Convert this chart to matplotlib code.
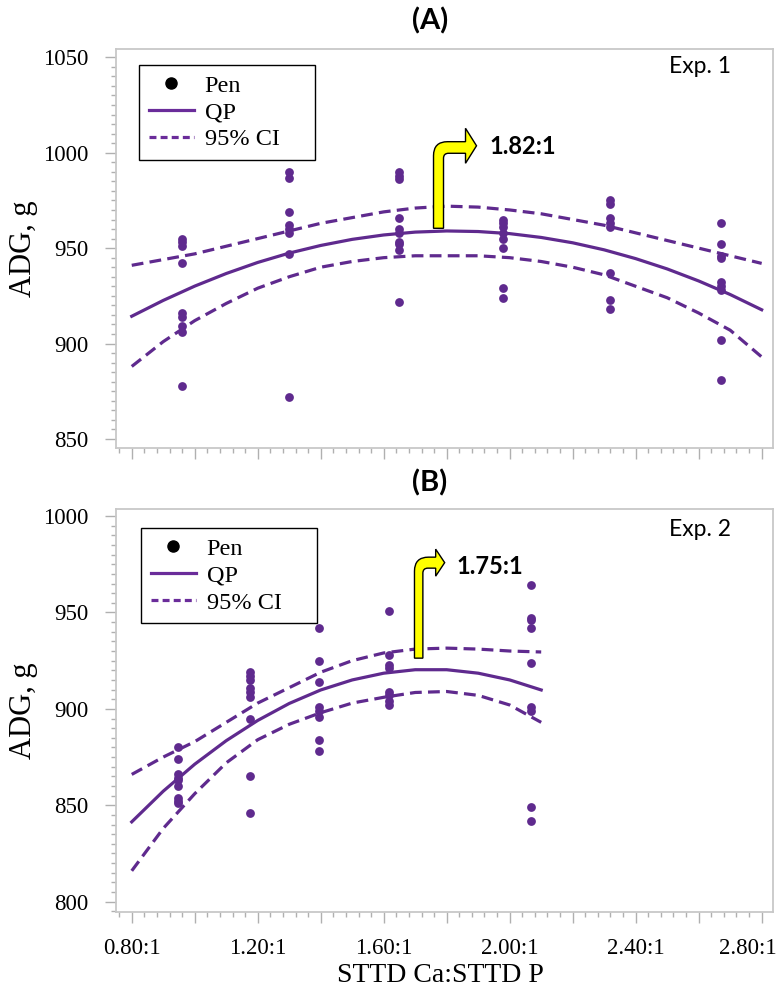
import numpy as np
import matplotlib
matplotlib.use("Agg")
from matplotlib import pyplot as plt
from matplotlib.path import Path
from matplotlib.patches import PathPatch
from matplotlib.lines import Line2D
import matplotlib.transforms as mtransforms
from matplotlib.ticker import MultipleLocator, FixedLocator

plt.rcParams['font.family'] = ['Liberation Serif', 'DejaVu Serif']
plt.rcParams['lines.scale_dashes'] = False

PURPLE = '#5f2a8e'

# ---- Exp. 1 data (panel A) ----
x1 = [0.96, 1.30, 1.65, 1.98, 2.32, 2.67]
pen1 = [
    [955, 953, 951, 942, 916, 914, 909, 906, 878],
    [990, 987, 969, 962, 960, 958, 947, 872],
    [990, 988, 986, 966, 960, 958, 953, 952, 949, 922],
    [965, 963, 961, 958, 955, 950, 929, 924],
    [975, 973, 966, 963, 961, 937, 923, 918],
    [963, 952, 946, 945, 932, 930, 928, 902, 881],
]
curve_x1 = [0.8, 0.9, 1.0, 1.1, 1.2, 1.3, 1.4, 1.5, 1.6, 1.7, 1.8,
            1.9, 2.0, 2.1, 2.2, 2.3, 2.4, 2.5, 2.6, 2.7, 2.8]
qp1 = [914.3, 922.6, 930.1, 936.7, 942.5, 947.4, 951.4, 954.6, 956.9, 958.4, 959.0,
       958.7, 957.6, 955.6, 952.8, 949.1, 944.5, 939.1, 932.8, 925.7, 917.7]
ci_hi1 = [941, 944, 947, 951, 955, 959, 963, 966, 969, 971, 972,
          971.5, 970, 968, 965, 962, 958, 954, 950, 946, 942]
ci_lo1 = [888, 901, 912, 921, 929, 935, 940, 943, 945, 946, 946,
          946, 945, 943, 940, 936, 930, 924, 916, 907, 893]

# ---- Exp. 2 data (panel B) ----
x2 = [0.947, 1.174, 1.395, 1.617, 2.067]
pen2 = [
    [880, 874, 866, 864, 863, 860, 854, 852, 851],
    [919, 917, 915, 911, 909, 906, 895, 865, 846],
    [942, 925, 914, 901, 899, 896, 884, 878],
    [951, 928, 923, 921, 909, 907, 904, 902],
    [964, 947, 946, 942, 924, 901, 899, 849, 842],
]
curve_x2 = [0.8, 0.9, 1.0, 1.1, 1.2, 1.3, 1.4, 1.5, 1.6, 1.7, 1.8, 1.9, 2.0, 2.1]
qp2 = [841.4, 857.3, 871.3, 883.5, 894.0, 902.8, 909.8, 915.0, 918.5, 920.3, 920.3, 918.5, 915.0, 909.8]
ci_hi2 = [866, 875, 883, 893, 903, 911, 919, 925, 929, 931, 931.5, 931, 930, 929.5]
ci_lo2 = [816, 838, 856, 872, 884, 892, 898, 903, 906, 908.5, 909, 907, 902, 893]

xticks = [0.8, 1.0, 1.2, 1.4, 1.6, 1.8, 2.0, 2.2, 2.4, 2.6, 2.8]
xticklabels = ['0.80:1', '', '1.20:1', '', '1.60:1', '', '2.00:1', '', '2.40:1', '', '2.80:1']
legend_labels = ['Pen', 'QP', '95% CI']


def bent_arrow(ax, x0, y0, hw, arm_top, arm_bot, head_x, tip_x, head_top, head_bot):
    # shape given in pixels relative to the foot of the shaft
    r_out, r_in = 14, 5
    verts = [(-hw, 0), (-hw, arm_top - r_out), (-hw, arm_top), (-hw + r_out, arm_top),
             (head_x, arm_top), (head_x, head_top), (tip_x, (head_top + head_bot) / 2.0),
             (head_x, head_bot), (head_x, arm_bot), (hw + r_in, arm_bot), (hw, arm_bot),
             (hw, arm_bot - r_in), (hw, 0), (-hw, 0)]
    codes = [Path.MOVETO, Path.LINETO, Path.CURVE3, Path.CURVE3,
             Path.LINETO, Path.LINETO, Path.LINETO,
             Path.LINETO, Path.LINETO, Path.LINETO, Path.CURVE3,
             Path.CURVE3, Path.LINETO, Path.CLOSEPOLY]
    tr = mtransforms.Affine2D().scale(ax.figure.dpi / 100.0) + \
        mtransforms.ScaledTranslation(x0, y0, ax.transData)
    patch = PathPatch(Path(verts, codes), facecolor='#ffff00', edgecolor='black',
                      linewidth=1.0, transform=tr, zorder=6, clip_on=False)
    ax.add_patch(patch)


def style_axes(ax, ylo, yhi, ymin, ymax):
    ax.set_xlim(0.75, 2.836)
    ax.set_ylim(ymin, ymax)
    ax.xaxis.set_major_locator(FixedLocator(xticks))
    ax.xaxis.set_minor_locator(MultipleLocator(0.04))
    ax.yaxis.set_minor_locator(MultipleLocator(5))
    ax.set_yticks(np.arange(ylo, yhi + 1, 50))
    for s in ax.spines.values():
        s.set_color('#c8c8c8')
        s.set_linewidth(1.3)
    ax.tick_params(which='major', direction='out', length=8, width=1.0, color='#b0b0b0',
                   labelsize=16.5, pad=11)
    ax.tick_params(which='minor', direction='out', length=3.8, width=1.0, color='#b0b0b0')
    ax.tick_params(axis='y', which='major', pad=12)
    ax.set_ylabel('ADG, g', fontsize=22)
    ax.yaxis.set_label_coords(-0.118, 0.5)


def draw_panel(ax, xs, pens, cx, qp, hi, lo, anchor):
    for xv, vals in zip(xs, pens):
        ax.scatter([xv] * len(vals), vals, s=40, color=PURPLE, zorder=3, linewidths=0)
    ax.plot(cx, qp, color=PURPLE, linewidth=2.3, zorder=4)
    ax.plot(cx, hi, color=PURPLE, linewidth=2.3, dashes=(8.5, 4.5), zorder=4)
    ax.plot(cx, lo, color=PURPLE, linewidth=2.3, dashes=(8.5, 4.5), zorder=4)
    handles = [Line2D([], [], marker='o', color='black', linestyle='none', markersize=8),
               Line2D([], [], color='#6a2c9a', linewidth=2.3),
               Line2D([], [], color='#6a2c9a', linewidth=2.3, dashes=(5, 3))]
    leg = ax.legend(handles, legend_labels, loc='upper left',
                    bbox_to_anchor=(anchor[0], anchor[1] - 0.3, 176 / 657, 0.3),
                    mode='expand', borderaxespad=0, fontsize=17.5, fancybox=False,
                    edgecolor='black', framealpha=1, handlelength=1.85,
                    handletextpad=0.45, labelspacing=0.2, borderpad=0.4)
    leg.get_frame().set_linewidth(1.0)


fig = plt.figure(figsize=(7.76, 9.94), dpi=100)
ax1 = fig.add_axes([116 / 776, 1 - 448.3 / 994, 657 / 776, 399 / 994])
ax2 = fig.add_axes([116 / 776, 1 - 911.7 / 994, 657 / 776, 402.4 / 994])

style_axes(ax1, 850, 1050, 845.1, 1054.2)
style_axes(ax2, 800, 1000, 794.8, 1003.5)
ax1.set_xticklabels([])
ax2.set_xticklabels(xticklabels)
# the last label sits against the figure edge
last = ax2.get_xticklabels()[-1]
last.set_transform(last.get_transform() +
                   mtransforms.ScaledTranslation(-14 / 100, 0, fig.dpi_scale_trans))

draw_panel(ax1, x1, pen1, curve_x1, qp1, ci_hi1, ci_lo1, (0.035, 0.961))
draw_panel(ax2, x2, pen2, curve_x2, qp2, ci_hi2, ci_lo2, (0.038, 0.953))

# optimum arrows and labels
bent_arrow(ax1, 1.774, 960.4, 5, 86.6, 75, 27, 38, 100, 65)
ax1.text(1.936, 1003.5, '1.82:1', family='Lato', fontweight='bold', fontsize=17,
         ha='left', va='center', zorder=7)
bent_arrow(ax2, 1.711, 926.3, 4.2, 101, 90, 17, 26, 109, 82)
ax2.text(1.83, 974, '1.75:1', family='Lato', fontweight='bold', fontsize=17,
         ha='left', va='center', zorder=7)

ax1.text(0.936, 0.956, 'Exp. 1', transform=ax1.transAxes, family='Lato', fontsize=16.5,
         ha='right', va='center')
ax2.text(0.936, 0.949, 'Exp. 2', transform=ax2.transAxes, family='Lato', fontsize=16.5,
         ha='right', va='center')

fig.text(430 / 776, 1 - 21 / 994, '(A)', family='Lato', fontweight='bold', fontsize=21,
         ha='center', va='center')
fig.text(430 / 776, 1 - 483 / 994, '(B)', family='Lato', fontweight='bold', fontsize=21,
         ha='center', va='center')
fig.text(440 / 776, 1 - 975 / 994, 'STTD Ca:STTD P', fontsize=20, ha='center', va='center')

fig.savefig('out.png', dpi=100)
